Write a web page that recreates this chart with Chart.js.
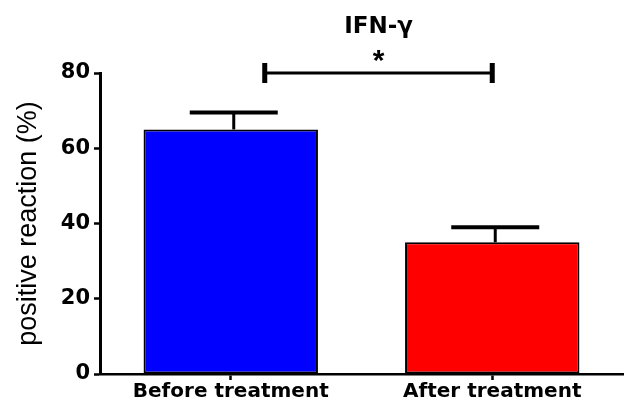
<!DOCTYPE html>
<html>
<head>
<meta charset="utf-8">
<script src="https://cdn.jsdelivr.net/npm/chart.js@4"></script>
<style>
  html, body { margin: 0; padding: 0; background: #fff; }
  #wrap { width: 635px; height: 403px; }
</style>
</head>
<body>
<div id="wrap"><canvas id="chart" width="635" height="403"></canvas></div>
<script>
  // ---------- Data ----------
  const categories = ["Before treatment", "After treatment"];
  const means = [65, 35];
  const errUpper = [69.5, 39]; // top of the SEM whisker
  const barColors = ["#0000ff", "#ff0000"];
  const yTicks = [0, 20, 40, 60, 80];
  const titleText = "IFN-\u03b3";
  const sigLabel = "*";
  const sigFrom = 0.13, sigTo = 1.0, sigLevel = 80; // in category index / y units

  const FONT = "'Liberation Sans', Arial, sans-serif";
  const WIDE = "'DejaVu Sans', Verdana, sans-serif";

  // ---------- Error bars + significance + title ----------
  const extras = {
    id: 'extras',
    afterDatasetsDraw(chart) {
      const { ctx, scales: { x, y } } = chart;
      const meta = chart.getDatasetMeta(0);
      ctx.save();
      ctx.strokeStyle = '#000';
      meta.data.forEach((bar, i) => {
        const cx = bar.x + 3;
        const yTop = y.getPixelForValue(errUpper[i]);
        const yBase = y.getPixelForValue(means[i]);
        ctx.lineWidth = 3;
        ctx.beginPath();
        ctx.moveTo(cx, yBase);
        ctx.lineTo(cx, yTop);
        ctx.stroke();
        ctx.lineWidth = 4;
        ctx.beginPath();
        ctx.moveTo(cx - 44, yTop);
        ctx.lineTo(cx + 44, yTop);
        ctx.stroke();
      });

      // significance bracket
      const p0 = x.getPixelForValue(0), p1 = x.getPixelForValue(1);
      const sx0 = p0 + (p1 - p0) * sigFrom;
      const sx1 = p0 + (p1 - p0) * sigTo;
      const sy = y.getPixelForValue(sigLevel);
      ctx.lineWidth = 3;
      ctx.beginPath();
      ctx.moveTo(sx0, sy);
      ctx.lineTo(sx1, sy);
      ctx.stroke();
      ctx.lineWidth = 5;
      [sx0, sx1].forEach(px => {
        ctx.beginPath();
        ctx.moveTo(px, sy - 10);
        ctx.lineTo(px, sy + 10);
        ctx.stroke();
      });
      const mid = (sx0 + sx1) / 2;
      ctx.fillStyle = '#000';
      ctx.textAlign = 'center';
      ctx.textBaseline = 'middle';
      ctx.font = 'bold 30px ' + FONT;
      ctx.fillText(sigLabel, mid, sy - 11);

      ctx.textBaseline = 'alphabetic';
      ctx.font = 'bold 23px ' + WIDE;
      ctx.fillText(titleText, mid, 33);
      ctx.restore();
    }
  };

  new Chart(document.getElementById('chart'), {
    type: 'bar',
    data: {
      labels: categories,
      datasets: [{
        data: means,
        backgroundColor: barColors,
        borderColor: '#000',
        borderWidth: 2,
        borderSkipped: false,
        barPercentage: 0.667,
        categoryPercentage: 1
      }]
    },
    options: {
      responsive: false,
      animation: false,
      layout: { padding: { top: 73, right: 12, left: 0, bottom: 0 } },
      plugins: { legend: { display: false }, tooltip: { enabled: false }, title: { display: false } },
      scales: {
        x: {
          grid: { display: true, drawOnChartArea: false, offset: false, tickLength: 6, tickWidth: 2.5, tickColor: '#000' },
          border: { color: '#000', width: 2.5 },
          ticks: { color: '#000', font: { family: WIDE, size: 20, weight: 'bold' }, padding: 0 },
          afterFit: s => { s.height = 29; }
        },
        y: {
          min: 0, max: 80,
          afterBuildTicks: s => { s.ticks = yTicks.map(v => ({ value: v })); },
          grid: { display: true, drawOnChartArea: false, tickLength: 6, tickWidth: 2.5, tickColor: '#000' },
          border: { color: '#000', width: 3 },
          ticks: { color: '#000', font: { family: WIDE, size: 21, weight: 'bold' }, padding: 4 },
          title: { display: true, text: 'positive reaction (%)', color: '#000', font: { family: FONT, size: 27 }, padding: { top: 12, bottom: 0 } },
          afterFit: s => { s.width = 100; }
        }
      }
    },
    plugins: [extras]
  });
</script>
</body>
</html>
